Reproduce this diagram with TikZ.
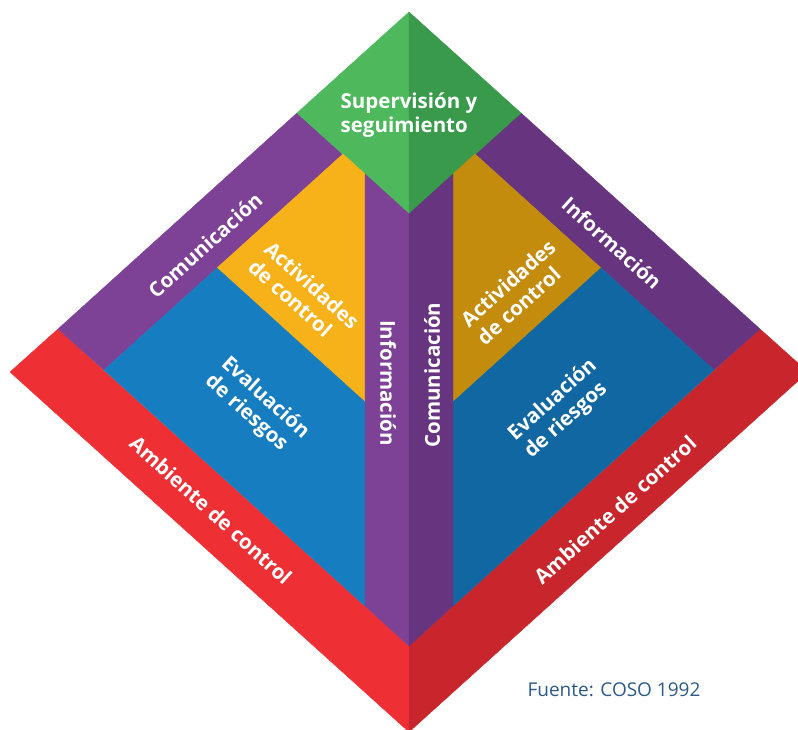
\documentclass[tikz,border=0pt]{standalone}
\usepackage{fontspec}
\setmainfont{Open Sans}
\definecolor{greenL}{HTML}{4DB85C}
\definecolor{greenD}{HTML}{389A4A}
\definecolor{purpleL}{HTML}{7D4196}
\definecolor{purpleD}{HTML}{67347F}
\definecolor{yellowL}{HTML}{F8B219}
\definecolor{yellowD}{HTML}{C48C0C}
\definecolor{blueL}{HTML}{177DC1}
\definecolor{blueD}{HTML}{1167A1}
\definecolor{redL}{HTML}{EE3035}
\definecolor{redD}{HTML}{C9252C}
\definecolor{fuente}{HTML}{2D5A85}

\begin{document}
\begin{tikzpicture}[x=1pt,y=-1pt,
face/.style={fill=#1, draw=#1, line width=0.4pt, line join=round},
lbl/.style={text=white, font=\bfseries\fontsize{20.5}{24}\selectfont, align=left, inner sep=0pt}
]
\useasboundingbox (0,0) rectangle (798,730);
\begin{scope}
\clip (0,0) rectangle (798,730);
% Left face
\fill[face=redL]    (10,372) -- (58,329) -- (409,646) -- (409,732) -- cycle;
\fill[face=purpleL] (58,329) -- (297,113) -- (343,154) -- (104,370) -- cycle;
\fill[face=greenL]  (297,113) -- (409,12) -- (409,214) -- cycle;
\fill[face=yellowL] (217,268) -- (343,154) -- (365,174) -- (365,402) -- cycle;
\fill[face=blueL]   (104,370) -- (217,268) -- (365,402) -- (365,606) -- cycle;
\fill[face=purpleL] (365,174) -- (409,214) -- (409,646) -- (365,606) -- cycle;
% Right face (mirrored, darker)
\begin{scope}[shift={(818,0)}, xscale=-1]
\fill[face=redD]    (10,372) -- (58,329) -- (409,646) -- (409,732) -- cycle;
\fill[face=purpleD] (58,329) -- (297,113) -- (343,154) -- (104,370) -- cycle;
\fill[face=greenD]  (297,113) -- (409,12) -- (409,214) -- cycle;
\fill[face=yellowD] (217,268) -- (343,154) -- (365,174) -- (365,402) -- cycle;
\fill[face=blueD]   (104,370) -- (217,268) -- (365,402) -- (365,606) -- cycle;
\fill[face=purpleD] (365,174) -- (409,214) -- (409,646) -- (365,606) -- cycle;
\end{scope}
\end{scope}
% Labels
\node[lbl]             (sup)   at (409,115) {Supervisión y\\seguimiento};
\node[lbl, rotate=42]  (comL)  at (205,245) {Comunicación};
\node[lbl, rotate=-42] (actL)  at (304,294) {Actividades\\de control};
\node[lbl, rotate=-42] (evaL)  at (257,407) {Evaluación\\de riesgos};
\node[lbl, rotate=-90] (infoV) at (388,383) {Información};
\node[lbl, rotate=90]  (comV)  at (432,375) {Comunicación};
\node[lbl, rotate=42]  (actR)  at (516,292) {Actividades\\de control};
\node[lbl, rotate=42]  (evaR)  at (561,409) {Evaluación\\de riesgos};
\node[lbl, rotate=-42] (infoR) at (612,243) {Información};
\node[lbl, rotate=-42] (ambL)  at (211,510) {Ambiente de control};
\node[lbl, rotate=42]  (ambR)  at (615,510) {Ambiente de control};
\node[text=fuente, font=\fontsize{19}{23}\selectfont] (src) at (614,690) {Fuente: COSO 1992};
\end{tikzpicture}
\end{document}
